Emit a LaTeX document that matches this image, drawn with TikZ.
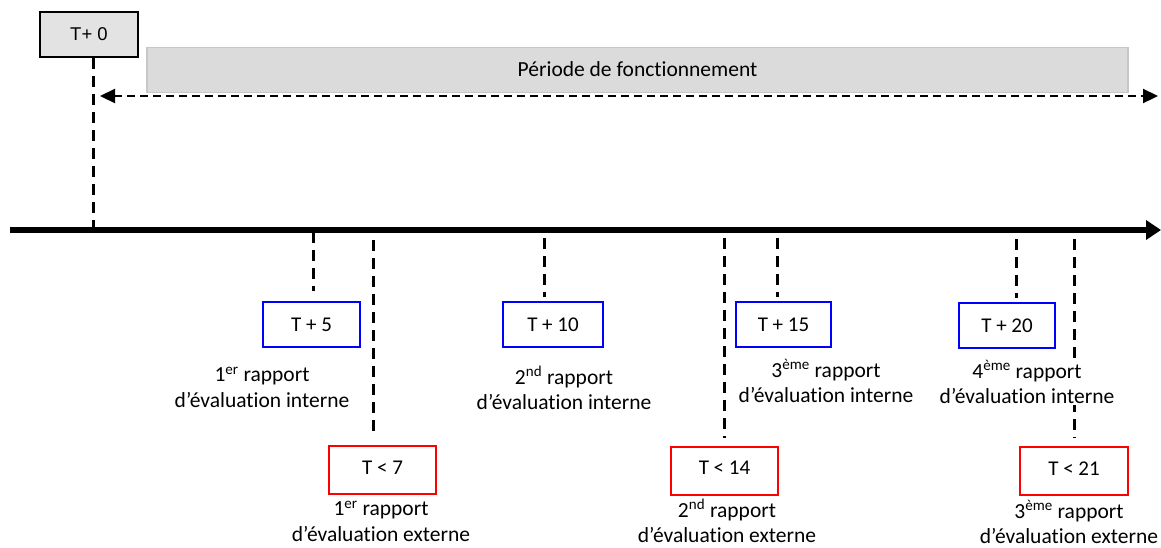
\documentclass[tikz,border=0pt]{standalone}
\usepackage{fontspec}
\setmainfont{Carlito}[Ligatures=NoCommon]
\newfontfamily\arialfont{Liberation Sans}
\usetikzlibrary{arrows.meta}
\begin{document}
\begin{tikzpicture}[x=1pt,y=-1pt,
  every node/.style={font=\fontsize{21.5}{25.5}\selectfont},
  zerobox/.style={draw=black,line width=1.8pt,fill=black!11,minimum width=98pt,minimum height=45pt,inner sep=0pt,font=\arialfont\fontsize{18.5}{22}\selectfont},
  periodbox/.style={draw=black!22,line width=1.6pt,fill=black!14,minimum width=981pt,minimum height=45pt,inner sep=0pt},
  bluebox/.style={draw=blue,line width=2pt,minimum height=45pt,inner sep=0pt,font=\fontsize{21}{25}\selectfont},
  redbox/.style={draw=red,line width=2pt,minimum height=48pt,inner sep=0pt,font=\fontsize{21}{25}\selectfont},
  lbl/.style={align=center,inner sep=1pt},
  vdash/.style={line width=3pt,dash pattern=on 11pt off 7pt},
  hdash/.style={line width=2.2pt,dash pattern=on 8pt off 5pt,{Triangle[length=15pt,width=14pt]}-{Triangle[length=15pt,width=14pt]}},
  axisline/.style={line width=5.5pt,-{Triangle[length=15pt,width=19pt]}}
]
\useasboundingbox (0,0) rectangle (1161,547);

% top part
\node[zerobox] (t0) at (89,34.5) {T+ 0};
\node[periodbox] (per) at (637.5,70) {\raisebox{2pt}{Période de fonctionnement}};
\coordinate (pl) at (100,96);
\coordinate (pr) at (1158,96);
\draw[hdash] (pl) -- (pr);

% axis
\coordinate (a0) at (10,230);
\coordinate (a1) at (1161,230);
\draw[axisline] (a0) -- (a1);

\coordinate (t0top) at (93,58);
\coordinate (t0bot) at (93,236);
\draw[vdash] (t0top) -- (t0bot);

% blue boxes
\node[bluebox,minimum width=97pt] (b5) at (311.5,324.5) {T + 5};
\node[bluebox,minimum width=100pt] (b10) at (553,324.5) {T + 10};
\node[bluebox,minimum width=95pt] (b15) at (783.5,324.5) {T + 15};
\node[bluebox,minimum width=96pt] (b20) at (1007,325.5) {T + 20};

% red boxes
\node[redbox,minimum width=107pt] (r7) at (382.5,470) {\raisebox{5pt}{T < 7}};
\node[redbox,minimum width=107pt] (r14) at (724.5,471) {\raisebox{6pt}{T < 14}};
\node[redbox,minimum width=108pt] (r21) at (1074,470.5) {\raisebox{4pt}{T < 21}};

% dashed connectors
\coordinate (d5a) at (313,232); \coordinate (d5b) at (313,291);
\coordinate (d10a) at (544,238); \coordinate (d10b) at (544,297);
\coordinate (d15a) at (777,238); \coordinate (d15b) at (777,297);
\coordinate (d20a) at (1016,239); \coordinate (d20b) at (1016,298);
\coordinate (d7a) at (373,240); \coordinate (d7b) at (373,438);
\coordinate (d14a) at (724,238); \coordinate (d14b) at (724,438);
\coordinate (d21a) at (1074,239); \coordinate (d21b) at (1074,438);
\draw[vdash] (d5a) -- (d5b);
\draw[vdash] (d10a) -- (d10b);
\draw[vdash] (d15a) -- (d15b);
\draw[vdash] (d20a) -- (d20b);
\draw[vdash] (d7a) -- (d7b);
\draw[vdash] (d14a) -- (d14b);
\draw[vdash] (d21a) -- (d21b);

% labels
\node[lbl] (l5) at (262,387) {1\textsuperscript{er} rapport\\d’évaluation interne};
\node[lbl] (l10) at (564,388) {2\textsuperscript{nd} rapport\\d’évaluation interne};
\node[lbl] (l15) at (826,381) {3\textsuperscript{ème} rapport\\d’évaluation interne};
\node[lbl,fill=white] (l20) at (1027,382) {4\textsuperscript{ème} rapport\\d’évaluation interne};
\node[lbl] (l7) at (381,521) {1\textsuperscript{er} rapport\\d’évaluation externe};
\node[lbl] (l14) at (727,521) {2\textsuperscript{nd} rapport\\d’évaluation externe};
\node[lbl] (l21) at (1069,522) {3\textsuperscript{ème} rapport\\d’évaluation externe};
\end{tikzpicture}
\end{document}
